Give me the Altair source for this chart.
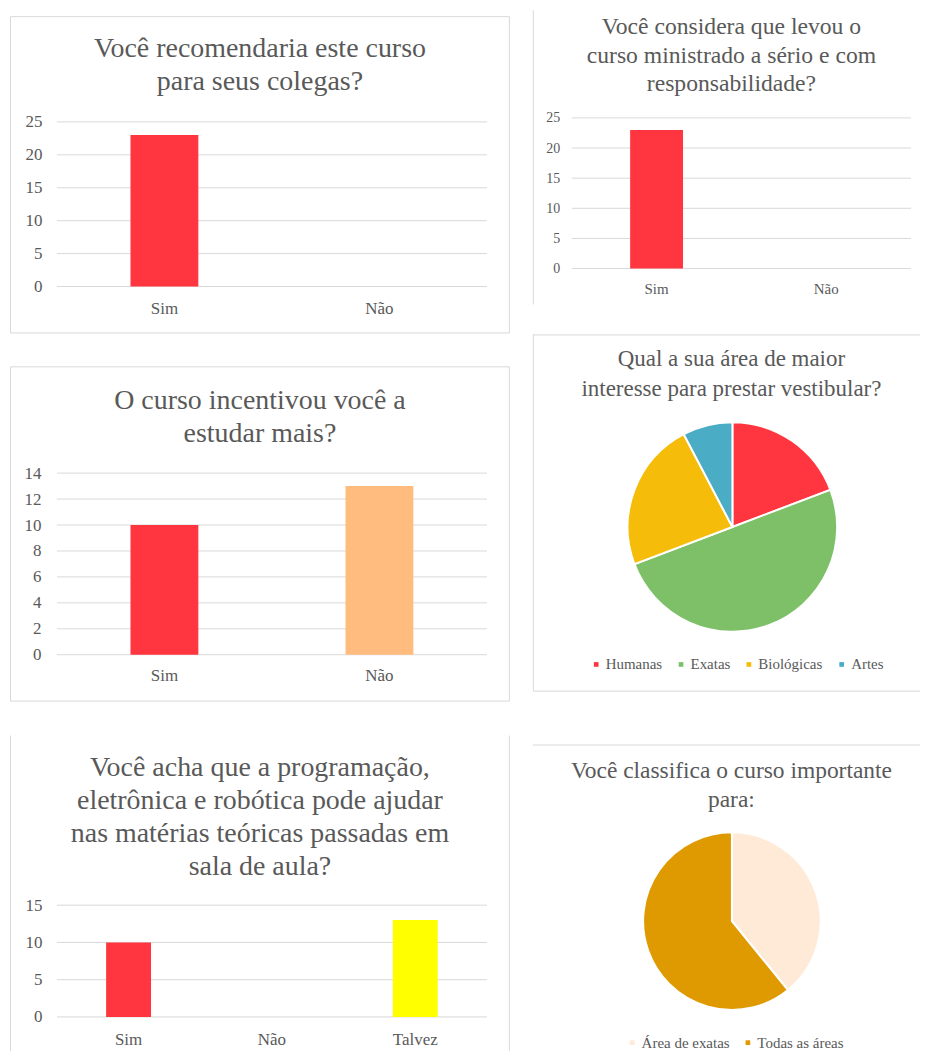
import altair as alt
import pandas as pd

FONT = "Liberation Serif"
TXT = "#595959"
GRID = "#D9D9D9"
BORDER = "#D9D9D9"

# ---------------- data ----------------
q1_title = ["Você recomendaria este curso", "para seus colegas?"]
q1_cats = ["Sim", "Não"]
q1_vals = [23, 0]
q1_ticks = [0, 5, 10, 15, 20, 25]

q2_title = ["Você considera que levou o", "curso ministrado a sério e com", "responsabilidade?"]
q2_cats = ["Sim", "Não"]
q2_vals = [23, 0]
q2_ticks = [0, 5, 10, 15, 20, 25]

q3_title = ["O curso incentivou você a", "estudar mais?"]
q3_cats = ["Sim", "Não"]
q3_vals = [10, 13]
q3_ticks = [0, 2, 4, 6, 8, 10, 12, 14]

q4_title = ["Qual a sua área de maior", "interesse para prestar vestibular?"]
q4_cats = ["Humanas", "Exatas", "Biológicas", "Artes"]
q4_vals = [5, 13, 6, 2]

q5_title = ["Você acha que a programação,", "eletrônica e robótica pode ajudar",
            "nas matérias teóricas passadas em", "sala de aula?"]
q5_cats = ["Sim", "Não", "Talvez"]
q5_vals = [10, 0, 13]
q5_ticks = [0, 5, 10, 15]

q6_title = ["Você classifica o curso importante", "para:"]
q6_cats = ["Área de exatas", "Todas as áreas"]
q6_vals = [9, 14]

# colours
c_q1 = ["#FF3640", "#FFBC7E"]
c_q2 = ["#FF3640", "#FFBC7E"]
c_q3 = ["#FF3640", "#FFBC7E"]
c_q4 = ["#FF3640", "#7DC068", "#F5BD0A", "#4AACC5"]
c_q5 = ["#FF3640", "#FFBC7E", "#FFFF00"]
c_q6 = ["#FFEAD8", "#DE9A00"]


def one():
    return alt.Data(values=[{"k": 0}])


def title_layer(lines, x, y, size, lh):
    return alt.Chart(one()).mark_text(
        align="center", baseline="middle", font=FONT, fontSize=size,
        lineHeight=lh, color=TXT
    ).encode(x=alt.value(x), y=alt.value(y), text=alt.value(lines))


def box(x0, x1, y0, y1):
    return alt.Chart(one()).mark_rect(
        fillOpacity=0, stroke=BORDER, strokeWidth=1
    ).encode(x=alt.value(x0), x2=alt.value(x1), y=alt.value(y0), y2=alt.value(y1))


def vline(x, y0, y1):
    return alt.Chart(one()).mark_rule(color=BORDER, strokeWidth=1).encode(
        x=alt.value(x), y=alt.value(y0), y2=alt.value(y1))


def hline(y, x0, x1):
    return alt.Chart(one()).mark_rule(color=BORDER, strokeWidth=1).encode(
        y=alt.value(y), x=alt.value(x0), x2=alt.value(x1))


def bar_layers(cats, vals, colors, ticks, h, xr, yr, bar_w, ylab_x, xlab_y, yfs, xfs):
    df = pd.DataFrame({"cat": cats, "val": vals})
    gdf = pd.DataFrame({"t": ticks})
    xs = alt.Scale(domain=cats, range=xr, paddingInner=0, paddingOuter=0)
    ys = alt.Scale(domain=[ticks[0], ticks[-1]], range=yr, nice=False, zero=True)
    yax = alt.Axis(values=ticks, orient="left", offset=-ylab_x, grid=False, domain=False,
                   ticks=False, tickSize=0, labelPadding=0, labelFont=FONT,
                   labelFontSize=yfs, labelColor=TXT, title=None, labelBaseline="middle")
    xax = alt.Axis(orient="bottom", offset=yr[0] - h, grid=False, domain=False, ticks=False,
                   tickSize=0, labelPadding=xlab_y - yr[0], labelFont=FONT, labelFontSize=xfs,
                   labelColor=TXT, title=None, labelAngle=0, labelBaseline="middle")
    grid = alt.Chart(gdf).mark_rule(color=GRID, strokeWidth=1).encode(
        y=alt.Y("t:Q", scale=ys, axis=yax),
        x=alt.value(xr[0]), x2=alt.value(xr[1]))
    bars = alt.Chart(df).mark_bar(width=bar_w).encode(
        x=alt.X("cat:N", scale=xs, sort=cats, axis=xax),
        y=alt.Y("val:Q", scale=ys, axis=yax),
        color=alt.Color("cat:N", scale=alt.Scale(domain=cats, range=colors), legend=None),
    )
    return [grid, bars]


def pie_layer(cats, vals, colors, cx, cy, r, lx, ly, colpad):
    df = pd.DataFrame({"cat": cats, "val": vals, "ord": list(range(len(cats)))})
    return alt.Chart(df).mark_arc(outerRadius=r, stroke="white", strokeWidth=2).encode(
        theta=alt.Theta("val:Q", stack=True),
        order=alt.Order("ord:Q"),
        color=alt.Color("cat:N", sort=cats,
                        scale=alt.Scale(domain=cats, range=colors),
                        legend=alt.Legend(orient="none", legendX=lx, legendY=ly,
                                          direction="horizontal", title=None,
                                          symbolType="square", symbolSize=22,
                                          symbolStrokeWidth=0,
                                          labelFont=FONT, labelFontSize=15,
                                          labelColor=TXT, labelOffset=2,
                                          columnPadding=colpad)),
        x=alt.value(cx), y=alt.value(cy),
    )


# ---------------- left column ----------------
A = alt.layer(
    box(0.5, 500.5, 6.5, 323.5),
    title_layer(q1_title, 250.5, 39, 28, 33),
    *bar_layers(q1_cats, q1_vals, c_q1, q1_ticks, 352, [47, 478], [277, 112], 68, 32, 299, 17, 17),
).properties(width=501, height=352)

B = alt.layer(
    box(0.5, 500.5, 5.5, 340.5),
    title_layer(q3_title, 250.5, 40, 28, 33),
    *bar_layers(q3_cats, q3_vals, c_q3, q3_ticks, 370, [47, 478], [294, 112], 68, 31, 315, 17, 17),
).properties(width=501, height=370)

C = alt.layer(
    vline(0.5, 5, 321),
    vline(500.5, 5, 321),
    title_layer(q5_title, 250.5, 38, 28, 33),
    *bar_layers(q5_cats, q5_vals, c_q5, q5_ticks, 321, [47, 478], [287, 175], 45, 32, 310, 17, 17),
).properties(width=501, height=321)

# ---------------- right column ----------------
D = alt.layer(
    vline(0.5, 0, 295),
    title_layer(q2_title, 199, 17, 23.7, 28.5),
    *bar_layers(q2_cats, q2_vals, c_q2, q2_ticks, 320, [39, 379], [259, 108], 53, 27, 279, 14, 15),
).properties(width=388, height=320)

E = alt.layer(
    hline(5.5, 0, 388),
    vline(0.5, 5, 362),
    hline(362.5, 0, 388),
    title_layer(q4_title, 199, 30, 23, 30),
    pie_layer(q4_cats, q4_vals, c_q4, 200, 198, 105, 56, 328, 11),
).properties(width=388, height=412)

F = alt.layer(
    hline(4.5, 0, 388),
    title_layer(q6_title, 199, 31, 23.5, 29),
    pie_layer(q6_cats, q6_vals, c_q6, 199.5, 181, 89, 92, 295, 10),
).properties(width=388, height=311)

left = alt.vconcat(A, B, C, spacing=0).resolve_scale(
    x="independent", y="independent", color="independent").resolve_legend(color="independent")
right = alt.vconcat(D, E, F, spacing=0).resolve_scale(
    x="independent", y="independent", color="independent").resolve_legend(color="independent")

chart = alt.hconcat(left, right, spacing=22).resolve_scale(
    x="independent", y="independent", color="independent"
).resolve_legend(color="independent").properties(
    padding={"left": 2, "top": 0, "right": 0, "bottom": 0},
    background="white",
).configure(font=FONT).configure_view(strokeWidth=0).configure_axis(
    labelFont=FONT, titleFont=FONT
).configure_legend(labelFont=FONT).configure_text(font=FONT)

chart.save("out.html", embed_options={"renderer": "svg", "actions": False})
